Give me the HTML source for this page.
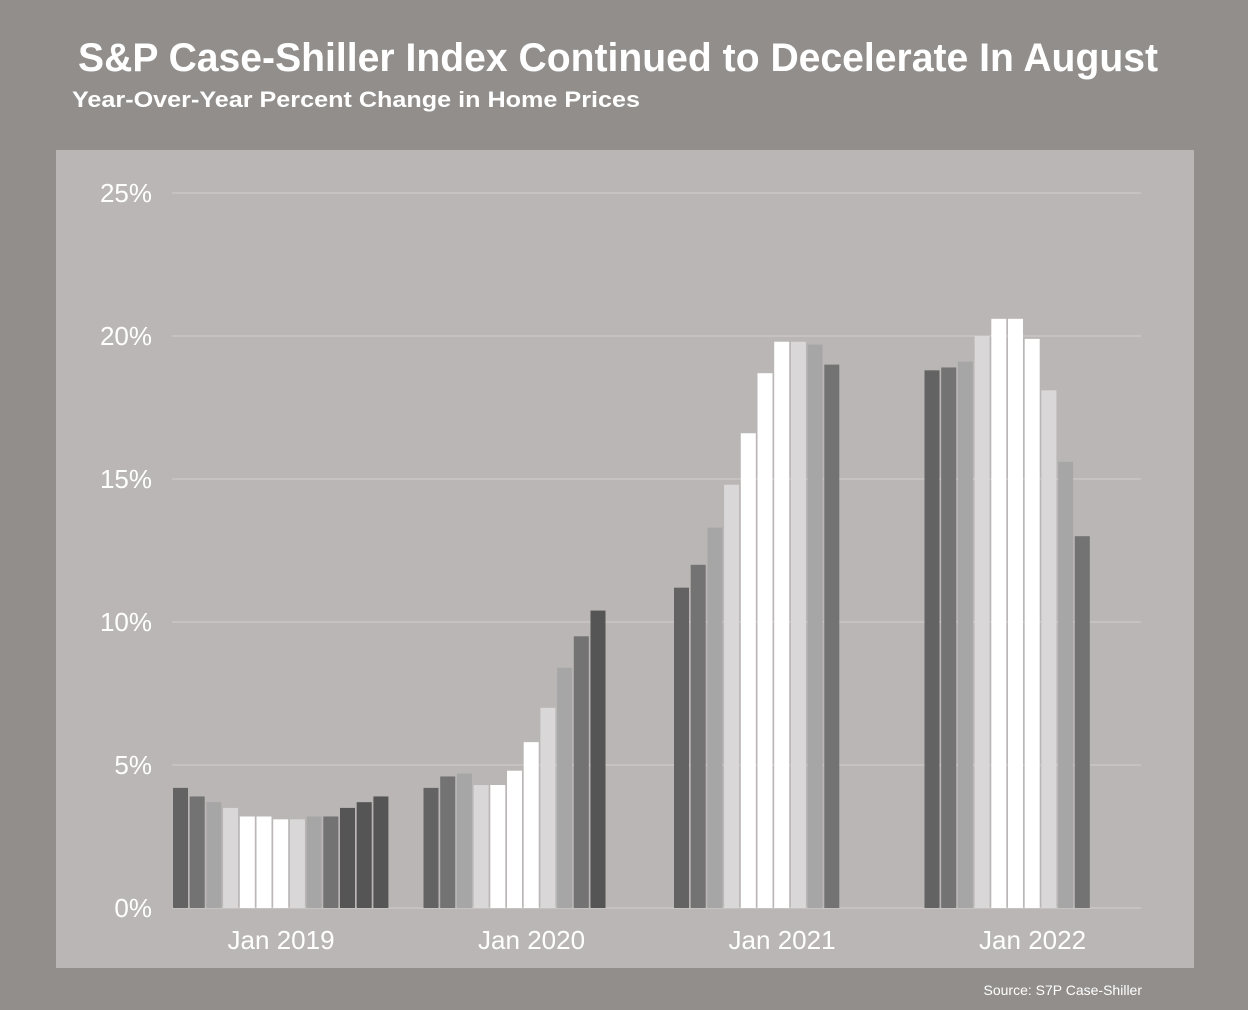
<!DOCTYPE html>
<html><head><meta charset="utf-8"><style>
html,body{margin:0;padding:0;background:#918e8b;}
svg{display:block;font-family:"Liberation Sans",sans-serif;}
</style></head><body>
<svg id="chart" width="1248" height="1010" viewBox="0 0 1248 1010">
<rect x="0" y="0" width="1248" height="1010" fill="#918e8b"/>
<text x="78" y="71" font-size="40" font-weight="bold" fill="#fff" textLength="1080" lengthAdjust="spacingAndGlyphs">S&amp;P Case-Shiller Index Continued to Decelerate In August</text>
<text x="72" y="107" font-size="22" font-weight="bold" fill="#fff" textLength="568" lengthAdjust="spacingAndGlyphs">Year-Over-Year Percent Change in Home Prices</text>
<rect x="56" y="150" width="1138" height="818" fill="#bab6b5"/>
<g id="grid"></g>
<g id="yticks"></g>
<g id="bars"></g>
<g id="xticks"></g>
<text x="1142" y="995" font-size="14" fill="#fff" text-anchor="end">Source: S7P Case-Shiller</text>
</svg>
<script>
const yTicks = [0, 5, 10, 15, 20, 25];
const yTickLabels = ["0%", "5%", "10%", "15%", "20%", "25%"];
const xLabels = ["Jan 2019", "Jan 2020", "Jan 2021", "Jan 2022"];
const xLabelMonths = [6.5, 21.5, 36.5, 51.5];
const monthIndex = [0,1,2,3,4,5,6,7,8,9,10,11,12, 15,16,17,18,19,20,21,22,23,24,25, 30,31,32,33,34,35,36,37,38,39, 45,46,47,48,49,50,51,52,53,54];
const values = [4.2,3.9,3.7,3.5,3.2,3.2,3.1,3.1,3.2,3.2,3.5,3.7,3.9,
 4.2,4.6,4.7,4.3,4.3,4.8,5.8,7.0,8.4,9.5,10.4,
 11.2,12.0,13.3,14.8,16.6,18.7,19.8,19.8,19.7,19.0,
 18.8,18.9,19.1,20.0,20.6,20.6,19.9,18.1,15.6,13.0];
const barColors = ["#626362","#737373","#a6a6a6","#d9d7d8","#fff","#fff","#fff","#d9d7d8","#a6a6a6","#737373","#555","#555","#555",
 "#626362","#737373","#a6a6a6","#d9d7d8","#fff","#fff","#fff","#d9d7d8","#a6a6a6","#737373","#555",
 "#626362","#737373","#a6a6a6","#d9d7d8","#fff","#fff","#fff","#d9d7d8","#a6a6a6","#737373",
 "#626362","#737373","#a6a6a6","#d9d7d8","#fff","#fff","#fff","#d9d7d8","#a6a6a6","#737373"];
const NS = "http://www.w3.org/2000/svg";
const yScale = v => 908 - v * 28.6;
const xScale = m => 173 + m * 16.7;
const BW = 15;
const grid = document.getElementById('grid');
const yt = document.getElementById('yticks');
yTicks.forEach((t, i) => {
  const l = document.createElementNS(NS, 'line');
  l.setAttribute('x1', 172); l.setAttribute('x2', 1141);
  l.setAttribute('y1', yScale(t)); l.setAttribute('y2', yScale(t));
  l.setAttribute('stroke', '#d2cfce'); l.setAttribute('stroke-width', 1);
  
  
  grid.appendChild(l);
  const tx = document.createElementNS(NS, 'text');
  tx.setAttribute('x', 152); tx.setAttribute('y', yScale(t) + 9);
  tx.setAttribute('text-anchor', 'end'); tx.setAttribute('font-size', 26);
  tx.setAttribute('fill', '#fff');
  tx.textContent = yTickLabels[i];
  
  
  yt.appendChild(tx);
});
const bars = document.getElementById('bars');
values.forEach((v, i) => {
  const r = document.createElementNS(NS, 'rect');
  r.setAttribute('x', xScale(monthIndex[i]));
  r.setAttribute('y', yScale(v));
  r.setAttribute('width', BW);
  r.setAttribute('height', yScale(0) - yScale(v));
  r.setAttribute('fill', barColors[i]);
  
  
  bars.appendChild(r);
});
const xt = document.getElementById('xticks');
xLabels.forEach((lab, i) => {
  const tx = document.createElementNS(NS, 'text');
  tx.setAttribute('x', xScale(xLabelMonths[i]) + BW / 2 - 8);
  tx.setAttribute('y', 949);
  tx.setAttribute('text-anchor', 'middle'); tx.setAttribute('font-size', 26);
  tx.setAttribute('fill', '#fff');
  tx.textContent = lab;
  
  
  xt.appendChild(tx);
});
</script>
</body></html>
